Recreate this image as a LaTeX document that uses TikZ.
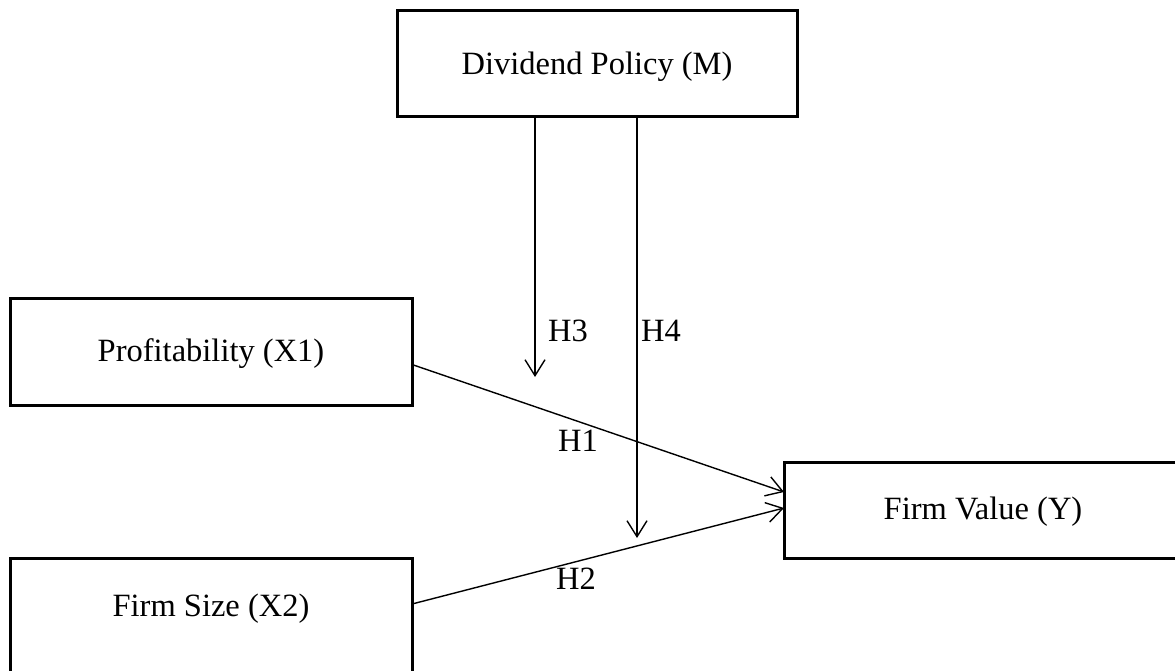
\documentclass[tikz,border=0pt]{standalone}
\usepackage{fontspec}
\setmainfont{Liberation Serif}
\usetikzlibrary{arrows.meta}
\begin{document}
\begin{tikzpicture}[x=1pt,y=-1pt,
  box/.style={draw,line width=3pt,rectangle,inner sep=0pt,outer sep=0pt,anchor=north west},
  lbl/.style={font=\fontsize{32.5}{38}\selectfont},
  conn/.style={line width=1.4pt,-{Straight Barb[length=16pt,width=20pt,line width=1.4pt]}}]
\useasboundingbox (0,0) rectangle (1175,670);
\clip (0,0) rectangle (1175,670);
\node[box,minimum width=400pt,minimum height=106pt] (d) at (397,10) {};
\node[lbl] (dt) at ([yshift=-4pt]d.center) {Dividend Policy (M)};
\node[box,minimum width=402pt,minimum height=107pt] (p) at (10,298) {};
\node[lbl] (pt) at ([yshift=-2pt]p.center) {Profitability (X1)};
\node[box,minimum width=402pt,minimum height=130pt] (fs) at (10,558) {};
\node[lbl] (fst) at (211,609) {Firm Size (X2)};
\node[box,minimum width=400pt,minimum height=96pt] (fv) at (784,462) {};
\node[lbl] (fvt) at (983,512) {Firm Value (Y)};
\coordinate (h3end) at (535,377);
\coordinate (h4end) at (637,538);
\draw[conn] ([xshift=-62pt]d.south) -- (h3end);
\draw[conn] ([xshift=40pt]d.south) -- (h4end);
\draw[conn] ([yshift=-13pt]p.east) -- ([yshift=18pt]fv.west);
\draw[conn] ([yshift=19pt]fs.east) -- ([yshift=2pt]fv.west);
\node[lbl] (h3) at (568,331) {H3};
\node[lbl] (h4) at (661,331) {H4};
\node[lbl] (h1) at (578,441) {H1};
\node[lbl] (h2) at (576,579) {H2};
\end{tikzpicture}
\end{document}
